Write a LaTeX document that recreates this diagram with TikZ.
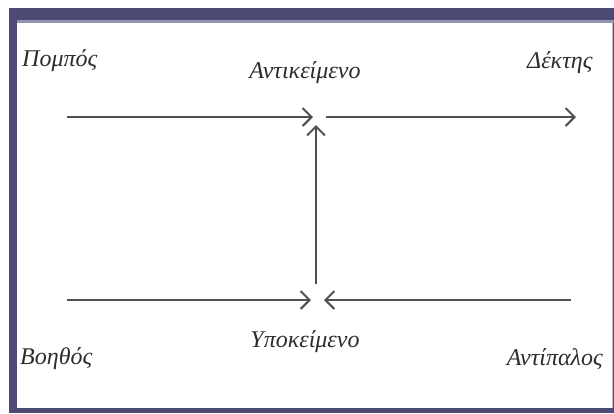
\documentclass[tikz,border=0pt]{standalone}
\usepackage{fontspec}
\setmainfont{Liberation Serif}
\usetikzlibrary{arrows.meta}
\definecolor{framecol}{RGB}{78,74,118}
\definecolor{inkcol}{RGB}{45,45,45}
\definecolor{linecol}{RGB}{80,80,80}
\tikzset{
  lbl/.style={font=\fontsize{24}{26}\selectfont\itshape, text=inkcol, inner sep=0pt},
  conn/.style={draw=linecol, line width=2pt, -{Straight Barb[length=9pt,width=18pt,line width=2pt]}}
}
\begin{document}
\begin{tikzpicture}[x=1pt,y=-1pt]
\useasboundingbox (0,0) rectangle (614,413);
% frame
\fill[white] (0,0) rectangle (614,413);
\fill[framecol] (9,8) rectangle (614,413);
\fill[framecol!60!white] (17,20) rectangle (614,23);
\fill[white] (17,23) rectangle (612,408);
\draw[black!25, line width=0.8pt] (612,23) -- (612,408);
% labels
\node[lbl, anchor=base west] (pompos) at (22,66) {Πομπός};
\node[lbl, anchor=base] (antik) at (305,78) {Αντικείμενο};
\node[lbl, anchor=base west] (dektis) at (527,68) {Δέκτης};
\node[lbl, anchor=base west] (voithos) at (20,364) {Βοηθός};
\node[lbl, anchor=base] (ypok) at (305,347) {Υποκείμενο};
\node[lbl, anchor=base east] (antip) at (603,365) {Αντίπαλος};
% connector points
\coordinate (tl) at (67,117);
\coordinate (tm) at (313,117);
\coordinate (tr0) at (326,117);
\coordinate (tr) at (576,117);
\coordinate (vb) at (316,284);
\coordinate (vt) at (316,125);
\coordinate (bl) at (67,300);
\coordinate (bml) at (311,300);
\coordinate (br) at (571,300);
\coordinate (bmr) at (324,300);
% connectors
\draw[conn] (tl) -- (tm);
\draw[conn] (tr0) -- (tr);
\draw[conn] (vb) -- (vt);
\draw[conn] (bl) -- (bml);
\draw[conn] (br) -- (bmr);
\end{tikzpicture}
\end{document}
